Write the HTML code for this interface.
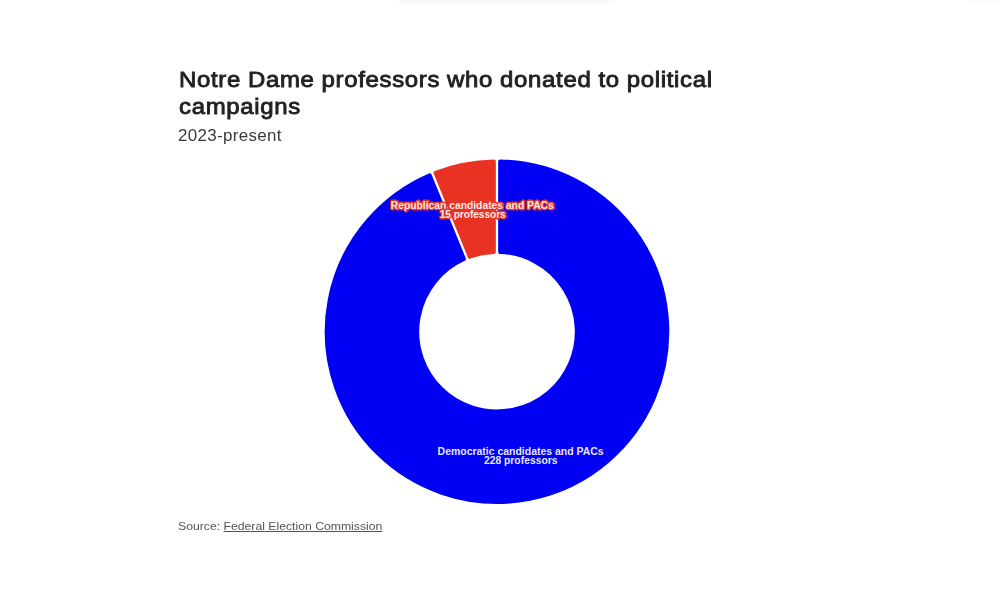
<!DOCTYPE html>
<html lang="en">
<head>
<meta charset="utf-8">
<title>Notre Dame professors who donated to political campaigns</title>
<style>
  html, body { margin: 0; padding: 0; background: #ffffff; }
  body { width: 1000px; height: 609px; position: relative; overflow: hidden;
         font-family: "Liberation Sans", sans-serif; color: #222222; }
  .shadow { position: absolute; left: 398px; top: -12px; width: 216px; height: 10px;
            box-shadow: 0 2px 7px rgba(0,0,0,0.09); border-radius: 5px; }
  .shadow2 { position: absolute; left: 966px; top: -12px; width: 60px; height: 10px;
            box-shadow: 0 2px 6px rgba(0,0,0,0.06); border-radius: 5px; }
  h1 { position: absolute; left: 179.3px; top: 65.8px; margin: 0; width: 560px; white-space: nowrap;
       font-size: 22px; line-height: 27px; font-weight: 400; color: #222222;
       letter-spacing: 0.6px; word-spacing: -0.25px; -webkit-text-stroke: 0.85px #222222;
       transform: scaleX(1.09); transform-origin: 0 0; }
  .sub { position: absolute; left: 178.3px; top: 125.6px; margin: 0; white-space: nowrap;
         font-size: 16px; line-height: 20px; color: #3a3a3a; letter-spacing: 0.3px;
         transform: scaleX(1.06); transform-origin: 0 0; }
  .src { position: absolute; left: 178.4px; top: 518.4px; margin: 0; white-space: nowrap;
         font-size: 11.7px; line-height: 16px; color: #555555;
         transform: scaleX(1.045); transform-origin: 0 0; }
  .src a { color: #555555; text-decoration: underline; }
  h1, .sub, .src { filter: grayscale(1); }
  svg { position: absolute; left: 0; top: 0; }
  .lbl { font-family: "Liberation Sans", sans-serif; font-weight: 700; font-size: 10px;
         fill: #ffffff; fill-opacity: 0.93; text-anchor: middle; paint-order: stroke fill; stroke-width: 2.8px;
         stroke-linejoin: round; }
</style>
</head>
<body>
<div class="shadow"></div>
<div class="shadow2"></div>
<h1>Notre Dame professors who donated to political<br>campaigns</h1>
<p class="sub">2023-present</p>
<svg width="1000" height="609" viewBox="0 0 1000 609">
  <path d="M500.15,161.38 A170.30,170.30 0 1 1 429.69,175.22 L463.93,259.03 A79.80,79.80 0 1 0 500.15,251.91 Z"
        fill="#0000f5" stroke="#0000f5" stroke-width="4" stroke-linejoin="round"/>
  <path d="M435.52,172.83 A170.30,170.30 0 0 1 493.85,161.38 L493.85,251.91 A79.80,79.80 0 0 0 469.76,256.64 Z"
        fill="#e83323" stroke="#e83323" stroke-width="4" stroke-linejoin="round"/>
  <text class="lbl" stroke="#e83323" x="472.3" y="209" textLength="163" lengthAdjust="spacingAndGlyphs">Republican candidates and PACs</text>
  <text class="lbl" stroke="#e83323" x="472.7" y="217.6" textLength="66" lengthAdjust="spacingAndGlyphs">15 professors</text>
  <text class="lbl" stroke="#0000f5" x="520.6" y="454.6" textLength="166" lengthAdjust="spacingAndGlyphs">Democratic candidates and PACs</text>
  <text class="lbl" stroke="#0000f5" x="520.7" y="463.5" textLength="73.6" lengthAdjust="spacingAndGlyphs">228 professors</text>
</svg>
<p class="src">Source: <a>Federal Election Commission</a></p>
</body>
</html>
